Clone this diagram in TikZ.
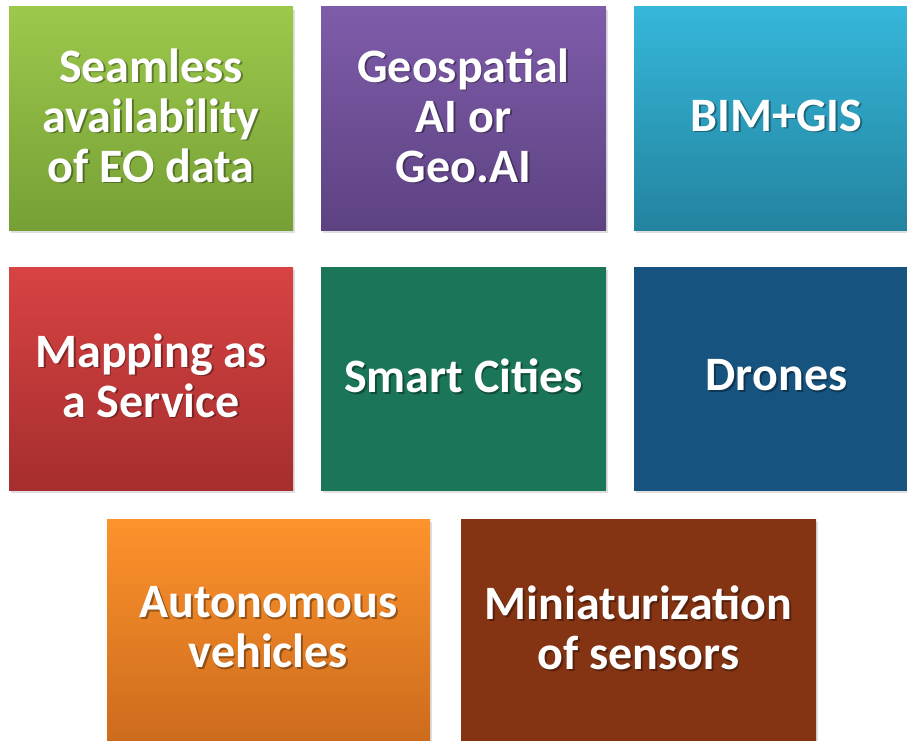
\documentclass[tikz,border=0pt]{standalone}
\usepackage{fontspec}
\setmainfont{Carlito}
\usetikzlibrary{shadows}
\definecolor{gA1}{HTML}{9CC84C}\definecolor{gA2}{HTML}{76A035}
\definecolor{pA1}{HTML}{7F5CAA}\definecolor{pA2}{HTML}{5D4282}
\definecolor{cA1}{HTML}{36B7DA}\definecolor{cA2}{HTML}{23839F}
\definecolor{rA1}{HTML}{D84343}\definecolor{rA2}{HTML}{A62E2E}
\definecolor{tA}{HTML}{1A7559}
\definecolor{bA}{HTML}{17537F}
\definecolor{oA1}{HTML}{FD932C}\definecolor{oA2}{HTML}{CC6B1D}
\definecolor{brA}{HTML}{843413}
\tikzset{
  tilebox/.style={drop shadow={opacity=0.25,shadow xshift=2pt,shadow yshift=-3pt}},
  tiletext/.style={align=center,font=\fontsize{48}{50}\selectfont\bfseries,text=white,inner sep=0pt},
  tileshade/.style={tiletext,text=black,opacity=0.35}
}
\newcommand\mytile[8]{%
  \path[tilebox,top color=#6,bottom color=#7] (#2,-#3) rectangle (#4,-#5);
  \node[tileshade] (#1s) at ({(#2+#4)/2+1.8},{-(#3+#5)/2-1.8+3}) {#8};
  \node[tiletext] (#1) at ({(#2+#4)/2},{-(#3+#5)/2+3}) {#8};
}
\begin{document}
\begin{tikzpicture}[x=1pt,y=1pt]
\useasboundingbox (0,0) rectangle (907,-741);
\clip (0,0) rectangle (907,-741);
\fill[white] (0,0) rectangle (907,-741);
\mytile{t1}{9}{7}{293}{230}{gA1}{gA2}{Seamless\\availability\\of EO data}
\mytile{t2}{321}{7}{606}{230}{pA1}{pA2}{Geospatial\\AI or\\Geo.AI}
\mytile{t3}{634}{7}{919}{230}{cA1}{cA2}{BIM+GIS}
\mytile{t4}{9}{267}{293}{490}{rA1}{rA2}{Mapping as\\a Service}
\mytile{t5}{321}{267}{606}{490}{tA}{tA}{Smart Cities}
\mytile{t6}{634}{267}{919}{490}{bA}{bA}{Drones}
\mytile{t7}{107}{519}{430}{742}{oA1}{oA2}{Autonomous\\vehicles}
\mytile{t8}{461}{519}{816}{742}{brA}{brA}{Miniaturization\\of sensors}
\end{tikzpicture}
\end{document}
